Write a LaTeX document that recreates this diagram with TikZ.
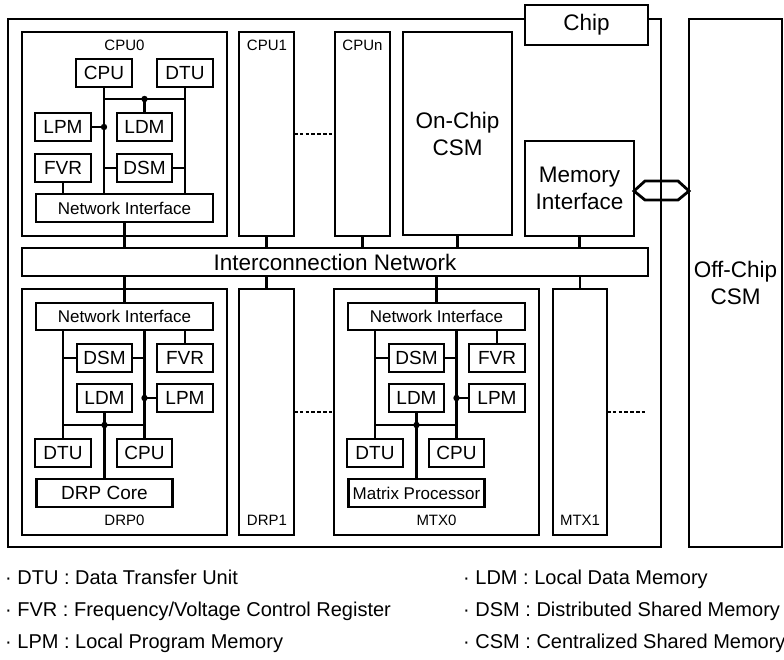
\documentclass[tikz,border=0pt]{standalone}
\usepackage{fontspec}
\setmainfont{Liberation Sans}
\usetikzlibrary{calc}
\newcommand\rbox[6][]{\node[bx,#1,minimum width={#4-#2},minimum height={#5-#3}] (#6) at ({(#2+#4)/2},{(#3+#5)/2})}
\tikzset{
  bx/.style={draw, line width=2.8pt, inner sep=0pt, outer sep=0pt, align=center, font=\fontsize{19}{21}\selectfont},
  nif/.style={font=\fontsize{17}{19}\selectfont},
  big/.style={font=\fontsize{22.5}{27}\selectfont},
  lbl/.style={inner sep=0pt, font=\fontsize{15}{17}\selectfont},
  ln/.style={line width=2.8pt},
  dsh/.style={line width=2.8pt, dash pattern=on 3.6pt off 2.2pt},
  leg/.style={inner sep=0pt, anchor=base west, font=\fontsize{20}{22}\selectfont},
  jd/.style={fill=black}
}
\newcommand\lowermod[2]{%
  \rbox{22}{289}{227}{535}{fr} {};
  \node[lbl] (lab) at (124.5,520) {#1};
  \rbox[nif]{36}{303}{213}{330}{ni} {Network Interface};
  \rbox{77}{344}{132}{372}{dsm} {DSM};
  \rbox{157}{344}{213}{372}{fvr} {FVR};
  \rbox{77}{384}{132}{412}{ldm} {LDM};
  \rbox{157}{384}{213}{412}{lpm} {LPM};
  \rbox{35}{439}{91}{467}{dtu} {DTU};
  \rbox{117}{439}{172}{467}{cpu} {CPU};
  \coordinate (hb) at (104.5,425);
  \draw[ln] (dtu.north |- ni.south) -- (dtu.north);
  \draw[ln] (cpu.north |- ni.south) -- (cpu.north);
  \draw[ln] (dtu.north |- hb) -- (cpu.north |- hb);
  \draw[ln] (dsm.west) -- (dsm.west -| dtu.north);
  \draw[ln] (dsm.east) -- (dsm.east -| cpu.north);
  \draw[ln] (fvr.north) -- (fvr.north |- ni.south);
  \draw[ln] (lpm.west) -- (lpm.west -| cpu.north);
  \fill[jd] (hb) circle (3.2pt);
  \fill[jd] (lpm.west -| cpu.north) circle (3.2pt);
}
\begin{document}
\begin{tikzpicture}[x=1pt,y=-1pt]
\useasboundingbox (0,0) rectangle (784,660);
% chip
\draw[ln] (8,19) rectangle (661,547);
\node[bx, big, fill=white, minimum width=123, minimum height=40] (chip) at (586.5,25) {Chip};
% off-chip
\rbox[big]{689}{19}{782}{547}{off} {Off-Chip\\CSM};
% CPU0
\rbox{22}{32}{227}{236}{c0} {};
\node[lbl] (c0lab) at (124.5,45) {CPU0};
\rbox{76}{59}{132}{87}{c0cpu} {CPU};
\rbox{157}{59}{213}{87}{c0dtu} {DTU};
\rbox{35}{113}{91}{141}{c0lpm} {LPM};
\rbox{117}{113}{172}{141}{c0ldm} {LDM};
\rbox{35}{154}{91}{182}{c0fvr} {FVR};
\rbox{117}{154}{172}{182}{c0dsm} {DSM};
\rbox[nif]{36}{194}{213}{222}{c0ni} {Network Interface};
\coordinate (c0hb) at (144.5,99);
\draw[ln] (c0cpu.south) -- (c0cpu.south |- c0ni.north);
\draw[ln] (c0dtu.south) -- (c0dtu.south |- c0ni.north);
\draw[ln] (c0cpu.south |- c0hb) -- (c0dtu.south |- c0hb);
\draw[ln] (c0ldm.north) -- (c0hb);
\draw[ln] (c0lpm.east) -- (c0lpm.east -| c0cpu.south);
\draw[ln] (c0dsm.west) -- (c0dsm.west -| c0cpu.south);
\draw[ln] (c0dsm.east) -- (c0dsm.east -| c0dtu.south);
\draw[ln] (c0fvr.south) -- (c0fvr.south |- c0ni.north);
\fill[jd] (c0hb) circle (3.2pt);
\fill[jd] (c0lpm.east -| c0cpu.south) circle (3.2pt);
% CPU1, CPUn
\rbox{239}{32}{294}{236}{c1} {};
\node[lbl] (c1lab) at (267,45) {CPU1};
\rbox{335}{32}{390}{236}{cn} {};
\node[lbl] (cnlab) at (362.5,45) {CPUn};
\draw[dsh] (c1.east) -- (cn.west);
% On-chip CSM, memory interface
\rbox[big]{403}{32}{512}{235}{ocsm} {On-Chip\\CSM};
\rbox[big]{525}{141}{634}{236}{mi} {Memory\\Interface};
% interconnection network
\rbox[big]{22}{248}{648}{276}{in} {Interconnection Network};
% lower modules
\begin{scope}[name prefix=d0-]
\lowermod{DRP0}{DRP Core}
\rbox[]{36.5}{479}{172.5}{507}{core} {DRP Core};
\draw[ln] (ldm.south) -- (core.north);
\end{scope}
\begin{scope}[xshift=312pt, name prefix=m0-]
\lowermod{MTX0}{Matrix Processor}
\rbox[nif]{36.5}{479}{172.5}{507}{core} {Matrix Processor};
\draw[ln] (ldm.south) -- (core.north);
\end{scope}
\rbox{239}{289}{294}{535}{d1} {};
\node[lbl] (d1lab) at (267,520) {DRP1};
\rbox{553}{289}{607}{535}{m1} {};
\node[lbl] (m1lab) at (580,520) {MTX1};
\draw[dsh] (d1.east) -- (m0-fr.west);
\coordinate (m1end) at (647,412);
\draw[dsh] (m1.east) -- (m1end);
% connections to interconnection network
\draw[ln] (c0ni.south) -- (c0ni.south |- in.north);
\draw[ln] (c1.south) -- (c1.south |- in.north);
\draw[ln] (cn.south) -- (cn.south |- in.north);
\draw[ln] (ocsm.south) -- (ocsm.south |- in.north);
\draw[ln] (mi.south) -- (mi.south |- in.north);
\draw[ln] (d0-ni.north) -- (d0-ni.north |- in.south);
\draw[ln] (d1.north) -- (d1.north |- in.south);
\draw[ln] (m0-ni.north) -- (m0-ni.north |- in.south);
\draw[ln] (m1.north) -- (m1.north |- in.south);
% bidirectional link
\coordinate (ha) at (mi.east |- 0,191);
\coordinate (hbz) at (off.west |- 0,191);
\draw[ln, line join=miter] (ha) -- ++(11,-10) -- ($(hbz)+(-11,-10)$) -- (hbz) -- ++(-11,9) -- ($(ha)+(11,9)$) -- cycle;
% legend
\node[leg] (l1) at (5,584) {· DTU : Data Transfer Unit};
\node[leg] (l2) at (5,616) {· FVR : Frequency/Voltage Control Register};
\node[leg] (l3) at (5,648) {· LPM : Local Program Memory};
\node[leg] (l4) at (463,584) {· LDM : Local Data Memory};
\node[leg] (l5) at (463,616) {· DSM : Distributed Shared Memory};
\node[leg] (l6) at (463,648) {· CSM : Centralized Shared Memory};
\end{tikzpicture}
\end{document}
